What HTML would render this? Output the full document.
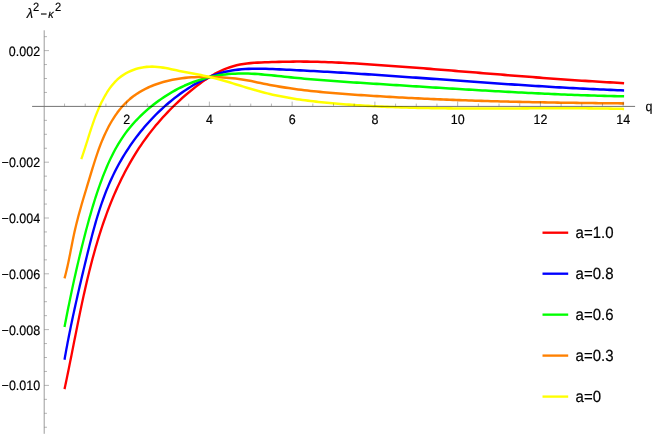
<!DOCTYPE html>
<html lang="en">
<head>
<meta charset="utf-8">
<title>Plot of lambda^2 - kappa^2 versus q</title>
<style>
html,body{margin:0;padding:0;background:#ffffff;}
body{width:654px;height:436px;overflow:hidden;position:relative;font-family:"Liberation Sans",sans-serif;}
svg text{font-family:"Liberation Sans",sans-serif;}
</style>
</head>
<body>
<svg width="654" height="436" viewBox="0 0 654 436" style="position:absolute;left:0;top:0">
<g transform="scale(0.9 1)" fill="none" stroke-width="2.55" stroke-linecap="butt" stroke-linejoin="round">
<path d="M71.67 389.10L72.48 385.72L73.28 382.34L74.07 378.94L74.86 375.54L75.64 372.12L76.41 368.70L77.18 365.27L77.95 361.84L78.72 358.39L79.48 354.95L80.24 351.49L81.01 348.03L81.77 344.57L82.53 341.10L83.30 337.62L84.06 334.15L84.84 330.67L85.61 327.19L86.39 323.70L87.18 320.22L87.97 316.73L88.77 313.24L89.57 309.75L90.39 306.27L91.21 302.78L92.05 299.29L92.89 295.81L93.75 292.33L94.62 288.85L95.50 285.37L96.40 281.90L97.31 278.43L98.24 274.96L99.18 271.50L100.14 268.05L101.12 264.60L102.12 261.16L103.13 257.72L104.17 254.29L105.22 250.87L106.30 247.46L107.40 244.05L108.52 240.65L109.67 237.27L110.84 233.89L112.04 230.52L113.26 227.17L114.51 223.82L115.78 220.49L117.09 217.17L118.42 213.86L119.79 210.57L121.18 207.29L122.60 204.02L124.06 200.76L125.55 197.53L127.08 194.30L128.63 191.10L130.23 187.91L131.86 184.73L133.52 181.58L135.22 178.44L136.97 175.31L138.75 172.21L140.56 169.13L142.42 166.07L144.33 163.02L146.27 160.00L148.25 157.00L150.28 154.01L152.36 151.05L154.47 148.12L156.64 145.20L158.85 142.31L161.10 139.44L163.41 136.60L165.76 133.78L168.17 130.99L170.62 128.22L173.11 125.48L175.66 122.76L178.24 120.08L180.87 117.43L183.55 114.80L186.26 112.21L189.02 109.65L191.81 107.12L194.64 104.63L197.51 102.17L200.42 99.74L203.36 97.36L206.33 95.01L209.34 92.70L212.38 90.43L215.45 88.20L218.55 86.01L221.69 83.88L224.86 81.80L228.07 79.79L231.32 77.86L234.62 76.02L237.96 74.27L241.35 72.62L244.79 71.07L248.29 69.65L251.84 68.35L255.45 67.19L259.13 66.17L262.86 65.30L266.66 64.58L270.51 63.99L274.41 63.52L278.34 63.14L282.29 62.85L286.26 62.63L290.24 62.45L294.22 62.31L298.19 62.18L302.14 62.06L306.08 61.96L310.01 61.86L313.93 61.77L317.85 61.70L321.76 61.65L325.67 61.61L329.58 61.59L333.49 61.59L337.40 61.61L341.31 61.64L345.22 61.69L349.13 61.76L353.05 61.84L356.96 61.93L360.88 62.04L364.79 62.17L368.71 62.30L372.62 62.45L376.54 62.61L380.45 62.78L384.37 62.96L388.28 63.15L392.20 63.35L396.12 63.56L400.03 63.77L403.95 63.99L407.87 64.22L411.78 64.45L415.70 64.69L419.61 64.93L423.53 65.18L427.44 65.43L431.36 65.68L435.27 65.93L439.18 66.19L443.10 66.45L447.01 66.71L450.92 66.98L454.84 67.25L458.75 67.52L462.66 67.79L466.57 68.06L470.48 68.33L474.39 68.61L478.30 68.89L482.21 69.17L486.12 69.45L490.03 69.73L493.94 70.01L497.85 70.30L501.76 70.58L505.67 70.87L509.58 71.15L513.49 71.44L517.40 71.73L521.31 72.02L525.22 72.30L529.13 72.59L533.04 72.88L536.95 73.16L540.86 73.45L544.76 73.74L548.67 74.02L552.58 74.31L556.49 74.59L560.40 74.88L564.31 75.16L568.22 75.44L572.13 75.72L576.04 76.00L579.95 76.27L583.86 76.55L587.77 76.82L591.68 77.10L595.59 77.37L599.50 77.63L603.41 77.90L607.32 78.16L611.23 78.42L615.14 78.68L619.05 78.94L622.97 79.19L626.88 79.44L630.79 79.69L634.70 79.93L638.62 80.18L642.53 80.41L646.45 80.65L650.36 80.88L654.27 81.11L658.19 81.33L662.10 81.55L666.02 81.76L669.94 81.97L673.85 82.18L677.77 82.38L681.69 82.58L685.61 82.78L689.53 82.97L693.44 83.15" stroke="#ff0000"/>
<path d="M71.67 359.70L72.33 356.31L73.01 352.93L73.69 349.56L74.39 346.19L75.10 342.83L75.82 339.47L76.55 336.11L77.29 332.76L78.04 329.42L78.80 326.08L79.57 322.74L80.35 319.40L81.14 316.07L81.94 312.74L82.74 309.41L83.55 306.08L84.37 302.76L85.20 299.44L86.03 296.11L86.87 292.79L87.72 289.47L88.57 286.15L89.43 282.83L90.30 279.51L91.17 276.19L92.04 272.87L92.93 269.54L93.81 266.22L94.70 262.89L95.60 259.56L96.49 256.23L97.40 252.90L98.31 249.57L99.23 246.24L100.16 242.90L101.11 239.58L102.07 236.25L103.05 232.93L104.04 229.61L105.06 226.30L106.10 223.00L107.17 219.71L108.26 216.42L109.39 213.15L110.54 209.88L111.73 206.63L112.95 203.40L114.21 200.17L115.50 196.96L116.84 193.77L118.22 190.60L119.65 187.44L121.12 184.30L122.64 181.18L124.21 178.09L125.83 175.01L127.50 171.96L129.22 168.93L130.99 165.92L132.81 162.94L134.67 159.98L136.59 157.05L138.56 154.15L140.57 151.27L142.63 148.42L144.74 145.59L146.90 142.80L149.10 140.04L151.36 137.30L153.66 134.60L156.01 131.93L158.40 129.29L160.84 126.68L163.33 124.11L165.87 121.57L168.45 119.07L171.07 116.61L173.74 114.18L176.46 111.79L179.22 109.44L182.02 107.13L184.87 104.86L187.76 102.63L190.69 100.45L193.67 98.31L196.68 96.21L199.74 94.16L202.84 92.16L205.98 90.21L209.16 88.32L212.38 86.49L215.64 84.72L218.93 83.03L222.26 81.42L225.63 79.88L229.04 78.44L232.48 77.08L235.96 75.82L239.47 74.67L243.01 73.62L246.59 72.68L250.20 71.86L253.84 71.15L257.51 70.54L261.21 70.04L264.93 69.63L268.68 69.30L272.44 69.05L276.22 68.87L280.01 68.76L283.82 68.71L287.64 68.71L291.46 68.75L295.29 68.82L299.13 68.93L302.97 69.06L306.80 69.21L310.64 69.36L314.46 69.52L318.29 69.68L322.11 69.85L325.92 70.02L329.73 70.19L333.54 70.36L337.34 70.54L341.14 70.71L344.94 70.90L348.73 71.08L352.52 71.27L356.31 71.46L360.09 71.65L363.88 71.84L367.66 72.04L371.44 72.24L375.22 72.44L379.00 72.64L382.78 72.85L386.56 73.06L390.33 73.27L394.11 73.48L397.89 73.70L401.67 73.92L405.45 74.14L409.23 74.36L413.01 74.59L416.79 74.81L420.57 75.04L424.35 75.27L428.13 75.50L431.92 75.73L435.70 75.97L439.48 76.20L443.27 76.44L447.05 76.68L450.84 76.92L454.62 77.16L458.41 77.40L462.19 77.64L465.98 77.88L469.77 78.13L473.55 78.37L477.34 78.62L481.13 78.86L484.92 79.10L488.71 79.35L492.49 79.60L496.28 79.84L500.07 80.09L503.86 80.33L507.65 80.58L511.44 80.82L515.23 81.06L519.02 81.31L522.81 81.55L526.61 81.79L530.40 82.03L534.19 82.27L537.98 82.51L541.77 82.75L545.56 82.99L549.36 83.23L553.15 83.46L556.94 83.69L560.73 83.93L564.52 84.16L568.32 84.38L572.11 84.61L575.90 84.84L579.70 85.06L583.49 85.28L587.28 85.50L591.07 85.72L594.87 85.93L598.66 86.14L602.45 86.35L606.24 86.56L610.04 86.76L613.83 86.96L617.62 87.16L621.42 87.36L625.21 87.55L629.00 87.74L632.79 87.93L636.58 88.11L640.38 88.29L644.17 88.47L647.96 88.64L651.75 88.81L655.54 88.97L659.33 89.13L663.12 89.29L666.92 89.44L670.71 89.59L674.50 89.74L678.29 89.88L682.08 90.02L685.87 90.15L689.66 90.28L693.44 90.40" stroke="#0000ff"/>
<path d="M71.67 327.10L72.35 323.85L73.05 320.61L73.75 317.37L74.45 314.12L75.16 310.88L75.88 307.64L76.61 304.41L77.35 301.17L78.09 297.94L78.84 294.70L79.59 291.47L80.36 288.24L81.13 285.01L81.91 281.79L82.70 278.56L83.50 275.34L84.31 272.12L85.12 268.90L85.95 265.68L86.78 262.47L87.62 259.25L88.47 256.04L89.33 252.83L90.20 249.63L91.08 246.42L91.97 243.22L92.87 240.02L93.77 236.82L94.69 233.62L95.62 230.43L96.56 227.24L97.51 224.05L98.48 220.87L99.46 217.68L100.46 214.51L101.47 211.33L102.51 208.17L103.56 205.00L104.64 201.84L105.74 198.69L106.87 195.55L108.02 192.41L109.20 189.28L110.41 186.15L111.65 183.04L112.92 179.93L114.22 176.83L115.56 173.74L116.94 170.66L118.35 167.60L119.81 164.55L121.32 161.53L122.88 158.53L124.49 155.56L126.15 152.61L127.87 149.70L129.65 146.82L131.49 143.98L133.40 141.18L135.38 138.42L137.43 135.71L139.56 133.04L141.76 130.43L144.03 127.86L146.37 125.35L148.79 122.88L151.26 120.46L153.80 118.09L156.40 115.77L159.06 113.49L161.78 111.27L164.54 109.09L167.36 106.95L170.23 104.87L173.15 102.84L176.11 100.87L179.12 98.95L182.18 97.08L185.27 95.28L188.41 93.54L191.59 91.86L194.81 90.25L198.06 88.70L201.35 87.22L204.68 85.81L208.03 84.48L211.42 83.22L214.84 82.04L218.29 80.93L221.77 79.90L225.27 78.95L228.79 78.08L232.34 77.28L235.90 76.56L239.48 75.91L243.07 75.35L246.68 74.86L250.30 74.44L253.93 74.10L257.57 73.84L261.21 73.65L264.85 73.53L268.50 73.48L272.15 73.50L275.81 73.58L279.46 73.71L283.12 73.89L286.78 74.10L290.44 74.36L294.10 74.65L297.77 74.96L301.43 75.29L305.10 75.64L308.76 75.99L312.42 76.35L316.09 76.71L319.75 77.05L323.42 77.39L327.08 77.72L330.74 78.04L334.40 78.35L338.06 78.65L341.73 78.95L345.39 79.23L349.05 79.51L352.71 79.78L356.37 80.05L360.02 80.30L363.68 80.56L367.34 80.80L371.00 81.04L374.66 81.28L378.32 81.51L381.97 81.74L385.63 81.97L389.29 82.19L392.95 82.40L396.61 82.62L400.26 82.83L403.92 83.04L407.58 83.25L411.24 83.46L414.90 83.67L418.56 83.88L422.21 84.08L425.87 84.29L429.53 84.50L433.19 84.71L436.85 84.91L440.51 85.12L444.17 85.33L447.83 85.54L451.50 85.75L455.16 85.96L458.82 86.17L462.48 86.38L466.14 86.58L469.80 86.79L473.47 87.00L477.13 87.21L480.79 87.41L484.45 87.62L488.12 87.83L491.78 88.03L495.44 88.24L499.11 88.44L502.77 88.64L506.44 88.84L510.10 89.04L513.76 89.24L517.43 89.44L521.09 89.64L524.76 89.83L528.42 90.03L532.09 90.22L535.75 90.41L539.42 90.60L543.09 90.79L546.75 90.98L550.42 91.16L554.08 91.35L557.75 91.53L561.42 91.71L565.08 91.89L568.75 92.06L572.42 92.24L576.08 92.41L579.75 92.58L583.42 92.74L587.08 92.91L590.75 93.07L594.42 93.23L598.08 93.39L601.75 93.54L605.42 93.69L609.09 93.84L612.75 93.99L616.42 94.13L620.09 94.27L623.76 94.41L627.42 94.54L631.09 94.67L634.76 94.80L638.43 94.92L642.10 95.04L645.76 95.16L649.43 95.28L653.10 95.39L656.77 95.49L660.43 95.60L664.10 95.70L667.77 95.79L671.44 95.88L675.11 95.97L678.77 96.05L682.44 96.13L686.11 96.21L689.78 96.28L693.44 96.35" stroke="#00ff00"/>
<path d="M71.67 278.40L72.58 275.34L73.45 272.27L74.27 269.19L75.05 266.11L75.80 263.01L76.52 259.91L77.22 256.81L77.91 253.70L78.58 250.59L79.26 247.47L79.93 244.36L80.62 241.25L81.32 238.14L82.05 235.03L82.80 231.92L83.58 228.82L84.40 225.73L85.25 222.64L86.12 219.56L87.02 216.48L87.94 213.41L88.88 210.34L89.83 207.28L90.81 204.22L91.79 201.17L92.79 198.13L93.79 195.09L94.80 192.06L95.82 189.04L96.83 186.02L97.85 183.00L98.86 179.99L99.87 176.99L100.87 174.00L101.88 171.01L102.89 168.02L103.91 165.04L104.95 162.05L106.02 159.07L107.12 156.08L108.25 153.09L109.43 150.09L110.66 147.09L111.93 144.09L113.27 141.10L114.65 138.13L116.10 135.17L117.61 132.24L119.18 129.34L120.83 126.48L122.54 123.66L124.33 120.89L126.19 118.18L128.13 115.52L130.16 112.93L132.27 110.42L134.47 107.98L136.76 105.62L139.14 103.36L141.62 101.19L144.20 99.12L146.88 97.15L149.65 95.29L152.52 93.53L155.46 91.87L158.48 90.30L161.58 88.84L164.73 87.47L167.95 86.19L171.22 85.01L174.54 83.92L177.90 82.91L181.29 82.00L184.72 81.16L188.17 80.42L191.63 79.75L195.11 79.17L198.60 78.66L202.10 78.23L205.60 77.86L209.11 77.57L212.63 77.33L216.15 77.15L219.68 77.02L223.20 76.95L226.73 76.92L230.26 76.93L233.79 76.98L237.31 77.06L240.83 77.17L244.35 77.31L247.86 77.48L251.36 77.69L254.86 77.94L258.36 78.23L261.85 78.58L265.33 78.97L268.80 79.43L272.27 79.94L275.73 80.51L279.18 81.11L282.64 81.75L286.09 82.39L289.54 83.05L292.99 83.70L296.45 84.33L299.91 84.94L303.37 85.52L306.84 86.08L310.31 86.62L313.78 87.13L317.26 87.62L320.74 88.10L324.22 88.55L327.70 88.98L331.19 89.40L334.68 89.80L338.17 90.18L341.67 90.55L345.16 90.90L348.66 91.24L352.16 91.56L355.66 91.87L359.17 92.17L362.67 92.46L366.18 92.74L369.69 93.01L373.20 93.27L376.71 93.52L380.22 93.76L383.73 94.00L387.24 94.23L390.76 94.46L394.27 94.68L397.78 94.90L401.30 95.12L404.81 95.33L408.32 95.54L411.84 95.74L415.35 95.94L418.87 96.14L422.38 96.33L425.90 96.52L429.41 96.71L432.93 96.89L436.45 97.07L439.96 97.25L443.48 97.42L447.00 97.59L450.51 97.76L454.03 97.92L457.55 98.08L461.07 98.24L464.58 98.39L468.10 98.54L471.62 98.69L475.14 98.83L478.66 98.98L482.18 99.11L485.70 99.25L489.22 99.38L492.73 99.51L496.25 99.64L499.77 99.76L503.29 99.89L506.81 100.01L510.33 100.12L513.85 100.24L517.37 100.35L520.89 100.46L524.42 100.56L527.94 100.67L531.46 100.77L534.98 100.87L538.50 100.96L542.02 101.06L545.54 101.15L549.06 101.24L552.58 101.33L556.11 101.41L559.63 101.49L563.15 101.57L566.67 101.65L570.19 101.73L573.71 101.80L577.23 101.88L580.76 101.95L584.28 102.02L587.80 102.08L591.32 102.15L594.84 102.21L598.37 102.27L601.89 102.33L605.41 102.39L608.93 102.45L612.45 102.50L615.98 102.56L619.50 102.61L623.02 102.66L626.54 102.71L630.06 102.76L633.58 102.80L637.11 102.85L640.63 102.89L644.15 102.93L647.67 102.97L651.19 103.01L654.71 103.05L658.24 103.09L661.76 103.12L665.28 103.16L668.80 103.19L672.32 103.22L675.84 103.26L679.36 103.29L682.88 103.32L686.40 103.35L689.92 103.37L693.44 103.40" stroke="#ff8000"/>
<path d="M90.33 159.10L91.34 156.51L92.32 153.90L93.28 151.29L94.23 148.68L95.16 146.05L96.08 143.43L97.00 140.80L97.92 138.17L98.84 135.54L99.77 132.91L100.71 130.29L101.66 127.68L102.63 125.07L103.63 122.47L104.65 119.88L105.70 117.31L106.79 114.75L107.91 112.20L109.08 109.67L110.29 107.17L111.56 104.68L112.87 102.21L114.25 99.77L115.68 97.35L117.19 94.96L118.76 92.61L120.41 90.30L122.15 88.05L123.97 85.88L125.90 83.78L127.92 81.77L130.06 79.86L132.31 78.07L134.67 76.40L137.16 74.85L139.74 73.44L142.41 72.15L145.17 70.99L148.00 69.96L150.89 69.07L153.84 68.32L156.82 67.70L159.83 67.22L162.87 66.88L165.91 66.68L168.95 66.63L172.00 66.71L175.03 66.92L178.07 67.22L181.10 67.62L184.12 68.08L187.15 68.61L190.17 69.17L193.19 69.77L196.21 70.37L199.22 70.97L202.24 71.55L205.25 72.09L208.26 72.61L211.26 73.11L214.27 73.61L217.26 74.10L220.26 74.59L223.25 75.11L226.23 75.64L229.20 76.21L232.17 76.82L235.14 77.45L238.10 78.12L241.05 78.82L244.00 79.53L246.94 80.27L249.88 81.03L252.82 81.81L255.76 82.59L258.69 83.39L261.63 84.19L264.56 85.00L267.49 85.81L270.43 86.62L273.36 87.43L276.30 88.22L279.24 89.01L282.18 89.79L285.13 90.55L288.08 91.29L291.04 92.01L294.00 92.71L296.96 93.38L299.94 94.03L302.91 94.64L305.90 95.23L308.89 95.80L311.88 96.34L314.88 96.86L317.88 97.36L320.89 97.84L323.90 98.29L326.92 98.73L329.94 99.14L332.96 99.54L335.98 99.93L339.01 100.29L342.04 100.64L345.08 100.98L348.11 101.30L351.15 101.61L354.19 101.91L357.23 102.20L360.27 102.48L363.31 102.74L366.36 103.01L369.40 103.26L372.44 103.50L375.49 103.74L378.53 103.97L381.58 104.19L384.63 104.41L387.68 104.62L390.72 104.82L393.77 105.02L396.82 105.20L399.87 105.39L402.92 105.56L405.97 105.73L409.02 105.89L412.07 106.05L415.13 106.20L418.18 106.34L421.23 106.48L424.28 106.61L427.34 106.74L430.39 106.86L433.45 106.98L436.50 107.09L439.56 107.20L442.61 107.30L445.67 107.39L448.72 107.48L451.78 107.57L454.84 107.65L457.90 107.73L460.95 107.80L464.01 107.87L467.07 107.93L470.13 107.99L473.19 108.05L476.25 108.10L479.31 108.15L482.36 108.19L485.42 108.23L488.48 108.27L491.54 108.31L494.60 108.34L497.67 108.37L500.73 108.39L503.79 108.42L506.85 108.44L509.91 108.45L512.97 108.47L516.03 108.48L519.09 108.49L522.15 108.50L525.22 108.50L528.28 108.51L531.34 108.51L534.40 108.51L537.46 108.51L540.53 108.51L543.59 108.50L546.65 108.50L549.71 108.49L552.77 108.48L555.84 108.47L558.90 108.46L561.96 108.45L565.02 108.44L568.08 108.43L571.15 108.42L574.21 108.41L577.27 108.40L580.33 108.38L583.39 108.37L586.45 108.36L589.51 108.35L592.58 108.34L595.64 108.33L598.70 108.32L601.76 108.31L604.82 108.30L607.88 108.29L610.94 108.28L614.00 108.28L617.06 108.27L620.12 108.27L623.18 108.27L626.23 108.27L629.29 108.27L632.35 108.27L635.41 108.28L638.47 108.29L641.52 108.30L644.58 108.31L647.64 108.32L650.70 108.34L653.75 108.36L656.81 108.38L659.86 108.41L662.92 108.43L665.97 108.47L669.03 108.50L672.08 108.54L675.13 108.58L678.19 108.62L681.24 108.67L684.29 108.72L687.34 108.78L690.39 108.84L693.44 108.90" stroke="#ffff00"/>
</g>
<g style="mix-blend-mode:multiply"><g stroke="#747474" stroke-width="1.0" fill="none"><line x1="32.1" y1="106.4" x2="635.1" y2="106.4"/><line x1="44.2" y1="30.3" x2="44.2" y2="433.8" stroke-width="0.73"/></g><g stroke="#747474" stroke-width="0.52" fill="none"><line x1="64.54" y1="106.4" x2="64.54" y2="103.60"/><line x1="85.23" y1="106.4" x2="85.23" y2="103.60"/><line x1="105.92" y1="106.4" x2="105.92" y2="103.60"/><line x1="126.61" y1="106.4" x2="126.61" y2="101.60"/><line x1="147.30" y1="106.4" x2="147.30" y2="103.60"/><line x1="167.99" y1="106.4" x2="167.99" y2="103.60"/><line x1="188.68" y1="106.4" x2="188.68" y2="103.60"/><line x1="209.37" y1="106.4" x2="209.37" y2="101.60"/><line x1="230.06" y1="106.4" x2="230.06" y2="103.60"/><line x1="250.75" y1="106.4" x2="250.75" y2="103.60"/><line x1="271.44" y1="106.4" x2="271.44" y2="103.60"/><line x1="292.13" y1="106.4" x2="292.13" y2="101.60"/><line x1="312.82" y1="106.4" x2="312.82" y2="103.60"/><line x1="333.51" y1="106.4" x2="333.51" y2="103.60"/><line x1="354.20" y1="106.4" x2="354.20" y2="103.60"/><line x1="374.89" y1="106.4" x2="374.89" y2="101.60"/><line x1="395.58" y1="106.4" x2="395.58" y2="103.60"/><line x1="416.27" y1="106.4" x2="416.27" y2="103.60"/><line x1="436.96" y1="106.4" x2="436.96" y2="103.60"/><line x1="457.65" y1="106.4" x2="457.65" y2="101.60"/><line x1="478.34" y1="106.4" x2="478.34" y2="103.60"/><line x1="499.03" y1="106.4" x2="499.03" y2="103.60"/><line x1="519.72" y1="106.4" x2="519.72" y2="103.60"/><line x1="540.41" y1="106.4" x2="540.41" y2="101.60"/><line x1="561.10" y1="106.4" x2="561.10" y2="103.60"/><line x1="581.79" y1="106.4" x2="581.79" y2="103.60"/><line x1="602.48" y1="106.4" x2="602.48" y2="103.60"/><line x1="623.17" y1="106.4" x2="623.17" y2="101.60"/><line x1="44.2" y1="427.25" x2="47.00" y2="427.25"/><line x1="44.2" y1="413.30" x2="47.00" y2="413.30"/><line x1="44.2" y1="399.35" x2="47.00" y2="399.35"/><line x1="44.2" y1="385.40" x2="49.00" y2="385.40"/><line x1="44.2" y1="371.45" x2="47.00" y2="371.45"/><line x1="44.2" y1="357.50" x2="47.00" y2="357.50"/><line x1="44.2" y1="343.55" x2="47.00" y2="343.55"/><line x1="44.2" y1="329.60" x2="49.00" y2="329.60"/><line x1="44.2" y1="315.65" x2="47.00" y2="315.65"/><line x1="44.2" y1="301.70" x2="47.00" y2="301.70"/><line x1="44.2" y1="287.75" x2="47.00" y2="287.75"/><line x1="44.2" y1="273.80" x2="49.00" y2="273.80"/><line x1="44.2" y1="259.85" x2="47.00" y2="259.85"/><line x1="44.2" y1="245.90" x2="47.00" y2="245.90"/><line x1="44.2" y1="231.95" x2="47.00" y2="231.95"/><line x1="44.2" y1="218.00" x2="49.00" y2="218.00"/><line x1="44.2" y1="204.05" x2="47.00" y2="204.05"/><line x1="44.2" y1="190.10" x2="47.00" y2="190.10"/><line x1="44.2" y1="176.15" x2="47.00" y2="176.15"/><line x1="44.2" y1="162.20" x2="49.00" y2="162.20"/><line x1="44.2" y1="148.25" x2="47.00" y2="148.25"/><line x1="44.2" y1="134.30" x2="47.00" y2="134.30"/><line x1="44.2" y1="120.35" x2="47.00" y2="120.35"/><line x1="44.2" y1="92.45" x2="47.00" y2="92.45"/><line x1="44.2" y1="78.50" x2="47.00" y2="78.50"/><line x1="44.2" y1="64.55" x2="47.00" y2="64.55"/><line x1="44.2" y1="50.60" x2="49.00" y2="50.60"/><line x1="44.2" y1="36.65" x2="47.00" y2="36.65"/></g></g>
<line x1="542.5" y1="232.7" x2="568.2" y2="232.7" stroke="#ff0000" stroke-width="2.35"/>
<line x1="542.5" y1="273.7" x2="568.2" y2="273.7" stroke="#0000ff" stroke-width="2.35"/>
<line x1="542.5" y1="314.65" x2="568.2" y2="314.65" stroke="#00ff00" stroke-width="2.35"/>
<line x1="542.5" y1="355.6" x2="568.2" y2="355.6" stroke="#ff8000" stroke-width="2.35"/>
<line x1="542.5" y1="396.6" x2="568.2" y2="396.6" stroke="#ffff00" stroke-width="2.35"/>
<g fill="#000" stroke="#000" stroke-width="0.2" style="font-family:'Liberation Sans',sans-serif;text-rendering:geometricPrecision;filter:grayscale(1)"><text transform="translate(126.61 124.20) scale(0.924 1)" font-size="13.5" text-anchor="middle">2</text><text transform="translate(209.37 124.20) scale(0.924 1)" font-size="13.5" text-anchor="middle">4</text><text transform="translate(292.13 124.20) scale(0.924 1)" font-size="13.5" text-anchor="middle">6</text><text transform="translate(374.89 124.20) scale(0.924 1)" font-size="13.5" text-anchor="middle">8</text><text transform="translate(457.65 124.20) scale(0.924 1)" font-size="13.5" text-anchor="middle">10</text><text transform="translate(540.41 124.20) scale(0.924 1)" font-size="13.5" text-anchor="middle">12</text><text transform="translate(623.17 124.20) scale(0.924 1)" font-size="13.5" text-anchor="middle">14</text><text transform="translate(40.10 55.60) scale(0.924 1)" font-size="13.5" text-anchor="end">0.002</text><text transform="translate(40.10 167.20) scale(0.924 1)" font-size="13.5" text-anchor="end">−0.002</text><text transform="translate(40.10 223.00) scale(0.924 1)" font-size="13.5" text-anchor="end">−0.004</text><text transform="translate(40.10 278.80) scale(0.924 1)" font-size="13.5" text-anchor="end">−0.006</text><text transform="translate(40.10 334.60) scale(0.924 1)" font-size="13.5" text-anchor="end">−0.008</text><text transform="translate(40.10 390.40) scale(0.924 1)" font-size="13.5" text-anchor="end">−0.010</text><text transform="translate(575.60 238.40) scale(0.924 1)" font-size="16.2">a=1.0</text><text transform="translate(575.60 279.40) scale(0.924 1)" font-size="16.2">a=0.8</text><text transform="translate(575.60 320.35) scale(0.924 1)" font-size="16.2">a=0.6</text><text transform="translate(575.60 361.30) scale(0.924 1)" font-size="16.2">a=0.3</text><text transform="translate(575.60 402.30) scale(0.924 1)" font-size="16.2">a=0</text><text transform="translate(645.60 111.40) scale(0.924 1)" font-size="13.5">q</text><text transform="translate(26.70 17.80) scale(0.924 1)" font-size="13.8" font-style="italic">λ</text><text transform="translate(33.10 11.20) scale(0.924 1)" font-size="12.0">2</text><text transform="translate(40.60 18.30) scale(0.924 1)" font-size="12.0">−</text><text transform="translate(48.30 17.80) scale(0.924 1)" font-size="11.6" font-style="italic">κ</text><text transform="translate(54.90 11.20) scale(0.924 1)" font-size="12.0">2</text></g>
</svg>
</body>
</html>
